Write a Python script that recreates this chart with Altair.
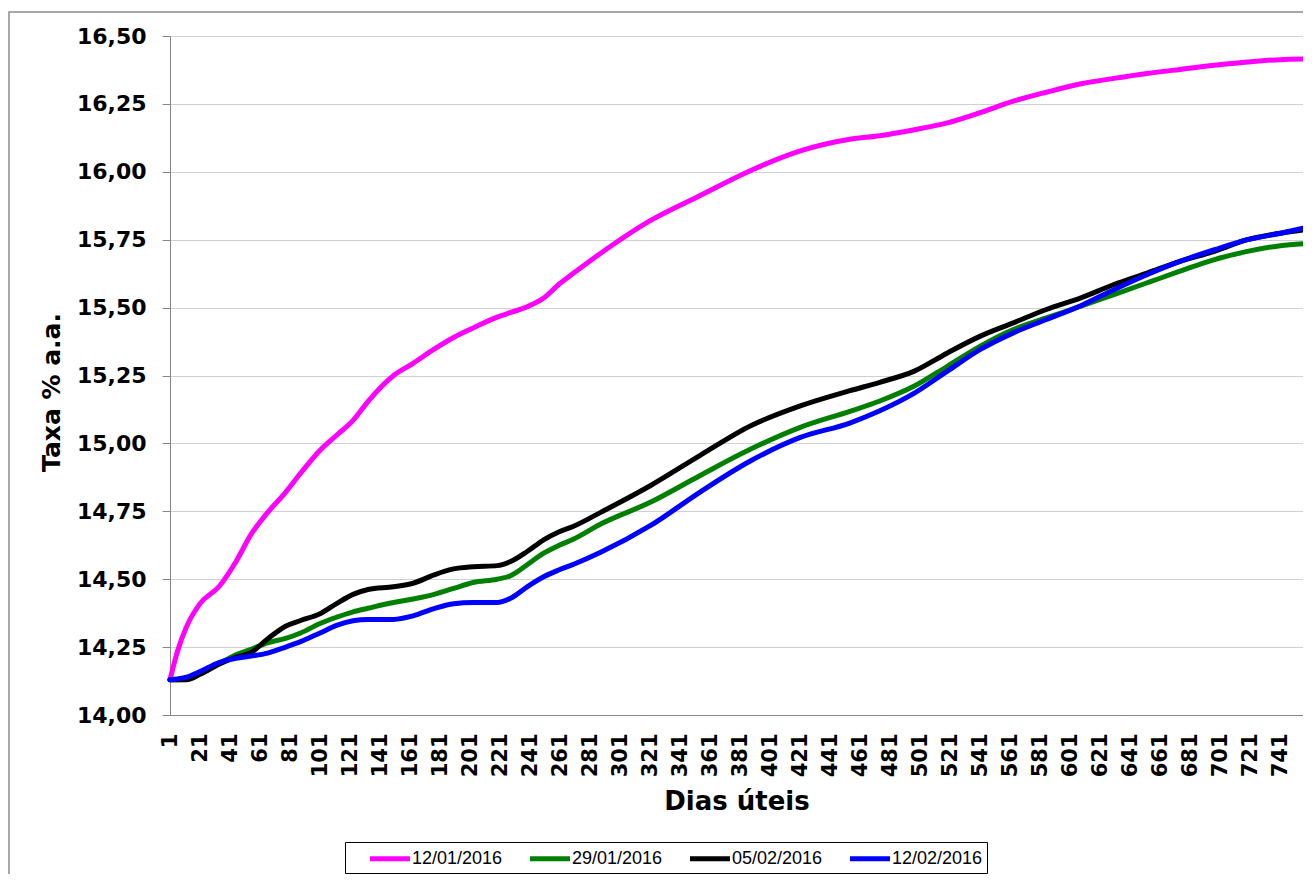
import altair as alt
import pandas as pd

days = [1, 6, 12, 21, 34, 45, 55, 66, 78, 88, 101, 112, 123, 133, 150, 163, 177,
        190, 203, 219, 228, 239, 250, 260, 270, 288, 321, 354, 388, 421, 454, 474,
        497, 519, 541, 563, 585, 608, 630, 652, 674, 697, 719, 741, 756]

s_12jan = [14.13, 14.235, 14.325, 14.41, 14.475, 14.565, 14.665, 14.745, 14.82, 14.89,
           14.975, 15.03, 15.085, 15.155, 15.25, 15.295, 15.347, 15.39, 15.425, 15.465,
           15.482, 15.503, 15.535, 15.585, 15.627, 15.70, 15.82, 15.912, 16.005, 16.077,
           16.12, 16.133, 16.155, 16.18, 16.218, 16.26, 16.293, 16.324, 16.344, 16.362,
           16.377, 16.392, 16.404, 16.413, 16.415]

s_29jan = [14.13, 14.13, 14.133, 14.152, 14.19, 14.222, 14.242, 14.266, 14.282, 14.302,
           14.337, 14.36, 14.38, 14.393, 14.414, 14.427, 14.444, 14.466, 14.488, 14.5,
           14.513, 14.553, 14.596, 14.624, 14.648, 14.703, 14.783, 14.881, 14.979, 15.059,
           15.118, 15.156, 15.211, 15.284, 15.358, 15.419, 15.462, 15.505, 15.548, 15.591,
           15.634, 15.677, 15.707, 15.728, 15.735]

s_05feb = [14.13, 14.13, 14.13, 14.15, 14.188, 14.213, 14.23, 14.28, 14.327, 14.348,
           14.373, 14.41, 14.444, 14.462, 14.472, 14.485, 14.516, 14.538, 14.546, 14.55,
           14.565, 14.602, 14.645, 14.674, 14.695, 14.746, 14.844, 14.955, 15.065, 15.138,
           15.194, 15.225, 15.266, 15.333, 15.395, 15.444, 15.493, 15.536, 15.585, 15.627,
           15.67, 15.707, 15.75, 15.774, 15.786]

s_12feb = [14.13, 14.133, 14.139, 14.16, 14.194, 14.209, 14.217, 14.228, 14.25, 14.27,
           14.302, 14.33, 14.347, 14.352, 14.352, 14.365, 14.392, 14.41, 14.414, 14.414,
           14.43, 14.472, 14.509, 14.534, 14.555, 14.599, 14.697, 14.82, 14.936, 15.022,
           15.075, 15.12, 15.185, 15.266, 15.346, 15.407, 15.456, 15.507, 15.566, 15.621,
           15.67, 15.713, 15.75, 15.774, 15.792]

series_names = ["12/01/2016", "29/01/2016", "05/02/2016", "12/02/2016"]
series_colors = ["#FF00FF", "#008000", "#000000", "#0000FF"]
series_values = [s_12jan, s_29jan, s_05feb, s_12feb]

x_ticks = list(range(1, 742, 20))
y_ticks = [14.0, 14.25, 14.5, 14.75, 15.0, 15.25, 15.5, 15.75, 16.0, 16.25, 16.5]

rows = []
for name, vals in zip(series_names, series_values):
    for d, v in zip(days, vals):
        rows.append({"dia": d, "taxa": v, "serie": name})
df = pd.DataFrame(rows)

FONT = "DejaVu Sans"

x_enc = alt.X(
    "dia:Q",
    scale=alt.Scale(domain=[1, 756], nice=False, zero=False),
    axis=alt.Axis(
        values=x_ticks, labelAngle=270, title="Dias úteis", grid=False,
        ticks=False, tickSize=0, labelPadding=18, labelFont=FONT, labelFontSize=21,
        labelFontWeight="bold", labelColor="black", titleFont=FONT, titleFontSize=26,
        titleFontWeight="bold", titleColor="black", titlePadding=12,
        domainColor="#868686", labelOverlap=False, labelFlush=False,
    ),
)
y_enc = alt.Y(
    "taxa:Q",
    scale=alt.Scale(domain=[14.0, 16.5], nice=False, zero=False),
    axis=alt.Axis(
        values=y_ticks, labelExpr="replace(format(datum.value, '.2f'), '.', ',')",
        title="Taxa % a.a.", grid=True, gridColor="#d0d0d0", gridWidth=1,
        tickSize=8, tickColor="#868686", domainColor="#868686", labelPadding=16,
        labelFont=FONT, labelFontSize=22, labelFontWeight="bold", labelColor="black",
        titleFont=FONT, titleFontSize=25, titleFontWeight="bold", titleColor="black",
        titleX=-119, titleY=356, titleAngle=270, titleAlign="center",
        titleBaseline="middle", labelOverlap=False,
    ),
)
color_enc = alt.Color(
    "serie:N",
    scale=alt.Scale(domain=series_names, range=series_colors),
    legend=alt.Legend(
        title=None, orient="none", legendX=175, legendY=806, direction="horizontal",
        symbolType="M-2,0H2", symbolSize=400, symbolStrokeWidth=5, symbolOffset=28.5,
        labelFont="Liberation Sans", labelFontSize=18, labelColor="black",
        labelOffset=9.5, columnPadding=6, padding=4, labelLimit=200,
        strokeColor="black", fillColor="white",
    ),
)

layers = []
for name in series_names:
    layers.append(
        alt.Chart(df)
        .transform_filter(alt.datum.serie == name)
        .mark_line(strokeWidth=5, interpolate="monotone", strokeCap="round")
        .encode(x=x_enc, y=y_enc, color=color_enc)
    )

deco = pd.DataFrame({"k": [0]})
frame = alt.Chart(deco).mark_rect(
    fill=None, stroke="#8c8c8c", strokeWidth=1.5, clip=False
).encode(
    x=alt.value(-161), x2=alt.value(1200), y=alt.value(-24), y2=alt.value(900)
)

chart = alt.layer(frame, *layers).properties(
    width=1133, height=679,
    autosize=alt.AutoSizeParams(type="none"),
    padding={"left": 162, "top": 28, "right": 0, "bottom": 159},
).configure_view(stroke=None).configure(background="white")

chart.save("out.html", embed_options={"renderer": "svg", "actions": False})
